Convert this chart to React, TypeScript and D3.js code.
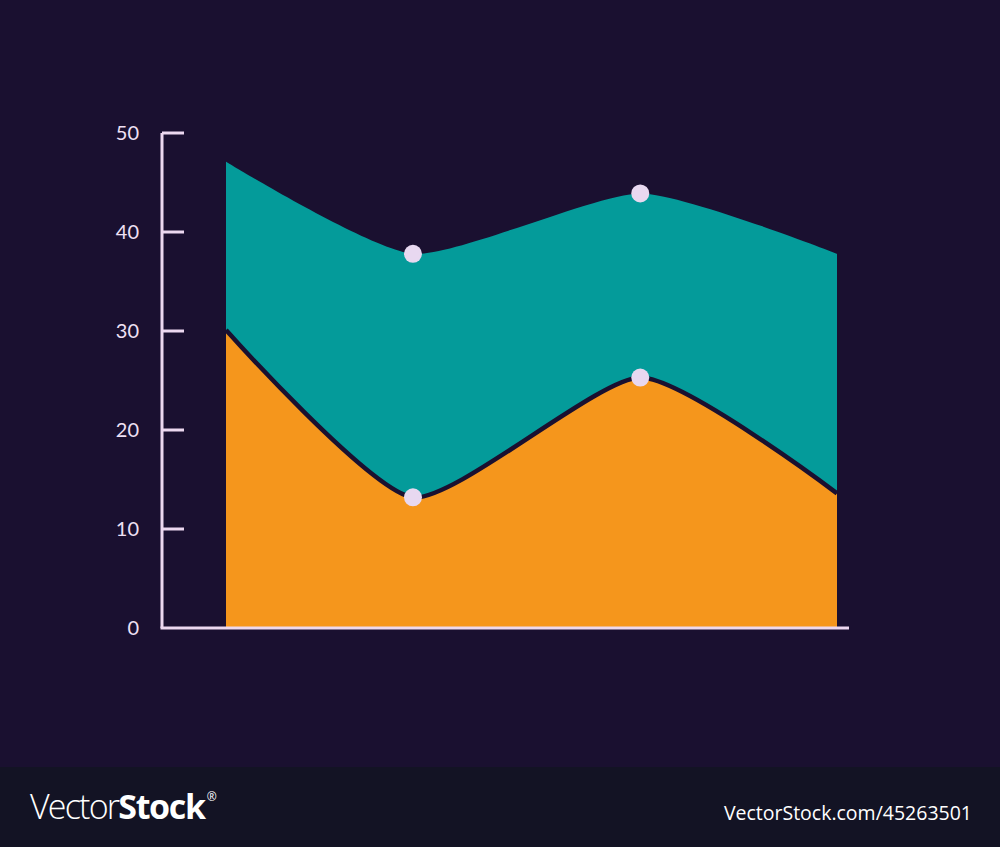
import React from "react";
import * as d3 from "d3";

const xValues = [0, 3.06, 6.78, 10];
const seriesOrange = [30.1, 13.2, 25.3, 13.6];
const seriesTeal = [17.0, 24.6, 18.6, 24.2];
const yTicks = [0, 10, 20, 30, 40, 50];
const dotIndices = [1, 2];

const W = 1000;
const H = 847;

export default function App() {
  const x = d3.scaleLinear().domain([0, 10]).range([226, 837]);
  const y = d3.scaleLinear().domain([0, 50]).range([628, 133]);

  const rows = xValues.map((xv, i) => ({ x: xv, orange: seriesOrange[i], teal: seriesTeal[i] }));
  const stack = d3.stack<any>().keys(["orange", "teal"]);
  const layers = stack(rows);

  const curve = d3.curveCardinal.tension(0.4);
  const area = d3
    .area<any>()
    .x((d) => x(d.data.x))
    .y0((d) => y(d[0]))
    .y1((d) => y(d[1]))
    .curve(curve);
  const line = d3
    .line<any>()
    .x((d) => x(d.data.x))
    .y((d) => y(d[1]))
    .curve(curve);

  const colors = ["#f5961c", "#049b9a"];

  return (
    <svg
      width={W}
      height={H}
      style={{ position: "absolute", left: 0, top: 0, display: "block" }}
      fontFamily="Lato, 'Open Sans', sans-serif"
    >
      <rect x={0} y={0} width={W} height={H} fill="#1a1030" />
      <path d={area(layers[1] as any) || ""} fill={colors[1]} />
      <path d={area(layers[0] as any) || ""} fill={colors[0]} />
      <path d={line(layers[0] as any) || ""} fill="none" stroke="#1a1030" strokeWidth={4.5} />

      {/* axes */}
      <line x1={162} x2={162} y1={y(50)} y2={y(0)} stroke="#ecd8f0" strokeWidth={3} />
      <line x1={160.5} x2={849} y1={y(0)} y2={y(0)} stroke="#ecd8f0" strokeWidth={3} />
      {yTicks.map((t) => (
        <g key={t}>
          {t > 0 && (
            <line x1={162} x2={184} y1={y(t)} y2={y(t)} stroke="#ecd8f0" strokeWidth={3} />
          )}
          <text
            x={139}
            y={y(t)}
            dy="0.35em"
            textAnchor="end"
            fill="#efe0f4"
            fontSize={20}
          >
            {t}
          </text>
        </g>
      ))}

      {/* dots */}
      {layers.map((layer, li) =>
        dotIndices.map((i) => (
          <circle
            key={li + "-" + i}
            cx={x(layer[i].data.x)}
            cy={y(layer[i][1])}
            r={9}
            fill="#e8d8f0"
          />
        ))
      )}

      {/* footer */}
      <rect x={0} y={767} width={W} height={H - 767} fill="#131324" />
      <text x={30} y={819} fill="#ffffff" fontSize={34} fontFamily="'Open Sans', sans-serif">
        <tspan fontWeight={300} letterSpacing={-1.8}>Vector</tspan>
        <tspan fontWeight={700} letterSpacing={-1.3}>Stock</tspan>
        <tspan fontSize={12} dy={-18} dx={2}>®</tspan>
      </text>
      <text
        x={972}
        y={820}
        textAnchor="end"
        fill="#ffffff"
        fontSize={19.5}
        fontFamily="'Open Sans', sans-serif"
      >
        VectorStock.com/45263501
      </text>
    </svg>
  );
}
